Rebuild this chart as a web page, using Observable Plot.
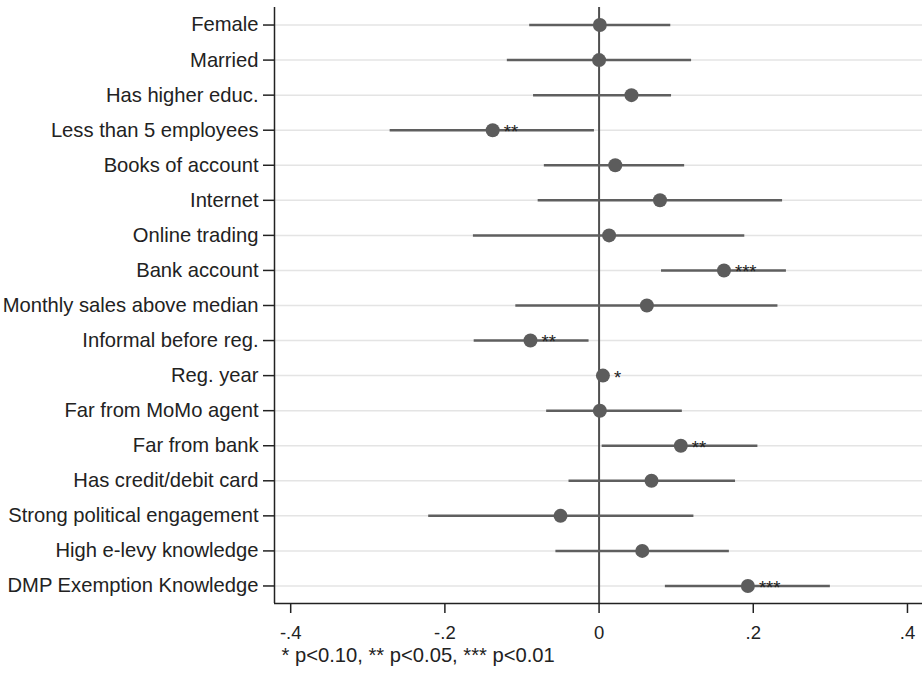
<!DOCTYPE html>
<html>
<head>
<meta charset="utf-8">
<script src="https://cdn.jsdelivr.net/npm/d3@7"></script>
<script src="https://cdn.jsdelivr.net/npm/@observablehq/plot@0.6"></script>
<style>
  body { margin: 0; background: #fff; }
  #chart svg { display: block; }
</style>
</head>
<body>
<div id="chart"></div>
<script>
// Regression coefficients with 95% confidence intervals
const variables = [
  "Female", "Married", "Has higher educ.", "Less than 5 employees",
  "Books of account", "Internet", "Online trading", "Bank account",
  "Monthly sales above median", "Informal before reg.", "Reg. year",
  "Far from MoMo agent", "Far from bank", "Has credit/debit card",
  "Strong political engagement", "High e-levy knowledge", "DMP Exemption Knowledge"
];
const coef   = [0.001, 0.000, 0.042, -0.138, 0.021, 0.079, 0.013, 0.162, 0.062, -0.089, 0.005, 0.001, 0.106, 0.068, -0.050, 0.056, 0.193];
const ciLow  = [-0.090, -0.119, -0.085, -0.271, -0.071, -0.079, -0.163, 0.081, -0.108, -0.162, 0.001, -0.068, 0.004, -0.039, -0.221, -0.056, 0.086];
const ciHigh = [0.093, 0.120, 0.094, -0.006, 0.111, 0.238, 0.189, 0.243, 0.232, -0.013, 0.009, 0.108, 0.206, 0.177, 0.123, 0.169, 0.300];
const stars  = ["", "", "", "**", "", "", "", "***", "", "**", "*", "", "**", "", "", "", "***"];

const xTicks = [-0.4, -0.2, 0, 0.2, 0.4];
const xTickLabels = ["-.4", "-.2", "0", ".2", ".4"];
const footnote = "* p<0.10, ** p<0.05, *** p<0.01";

const rows = variables.map((v, i) => ({
  idx: i, variable: v, coef: coef[i], lo: ciLow[i], hi: ciHigh[i], stars: stars[i]
}));

const xDomain = [-0.421, 0.4195];
const yDomain = [variables.length - 0.5, -0.5];
const idxTicks = variables.map((_, i) => i);

const chart = Plot.plot({
  width: 923,
  height: 675,
  marginLeft: 274,
  marginRight: 1,
  marginTop: 7,
  marginBottom: 72,
  style: { fontFamily: "'Liberation Sans', Arial, sans-serif", background: "#fff", color: "#222" },
  x: { domain: xDomain },
  y: { domain: yDomain },
  marks: [
    // light row guides
    Plot.ruleY(rows, { y: "idx", stroke: "#e4e4e4", strokeWidth: 1.5 }),
    // reference line at zero
    Plot.ruleX([0], { stroke: "#505050", strokeWidth: 2 }),
    // confidence intervals
    Plot.ruleY(rows, { y: "idx", x1: "lo", x2: "hi", stroke: "#5f5f5f", strokeWidth: 2.5 }),
    // point estimates
    Plot.dot(rows, { x: "coef", y: "idx", r: 7, fill: "#5c5c5c", stroke: "none" }),
    // significance stars
    Plot.text(rows, { x: "coef", y: "idx", text: "stars", textAnchor: "start", dx: 11, dy: 2, fontSize: 18.5, fill: "#222" }),
    // axis lines
    Plot.ruleX([xDomain[0]], { stroke: "#222", strokeWidth: 1.5 }),
    Plot.ruleY([yDomain[0]], { stroke: "#222", strokeWidth: 1.5 }),
    Plot.axisX({
      ticks: xTicks,
      tickFormat: d => xTickLabels[xTicks.findIndex(t => Math.abs(t - d) < 1e-9)],
      tickSize: 10, tickPadding: 12, fontSize: 18.5, strokeWidth: 1.5, label: null
    }),
    Plot.axisY({
      ticks: idxTicks,
      tickFormat: i => variables[i],
      tickSize: 11, tickPadding: 5, fontSize: 20.2, strokeWidth: 1.5, label: null
    }),
    // significance legend
    Plot.text([footnote], { frameAnchor: "bottom-left", dx: 7, dy: 58, textAnchor: "start", fontSize: 20.2, fill: "#222" })
  ]
});

document.getElementById("chart").append(chart);
</script>
</body>
</html>
